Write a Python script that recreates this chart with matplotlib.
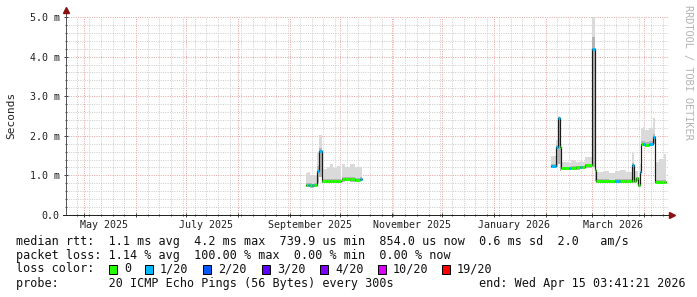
import numpy as np
import pandas as pd
import matplotlib
matplotlib.use("Agg")
import matplotlib.pyplot as plt
import matplotlib.dates as mdates
from matplotlib.patches import Rectangle

# smokeping style: one row per step, value holds until next row start
step_start = [
    "2025-09-10 10:00", "2025-09-11 14:00", "2025-09-12 19:00", "2025-09-14 00:00",
    "2025-09-15 05:00", "2025-09-17 00:00", "2025-09-18 05:00", "2025-09-20 00:00",
    "2025-09-23 00:00", "2025-09-25 00:00", "2025-09-27 00:00", "2025-09-29 00:00",
    "2025-10-01 08:00", "2025-10-02 00:00", "2025-10-04 00:00", "2025-10-07 00:00",
    "2025-10-10 00:00", "2025-10-12 19:00", "2025-10-14 00:00",
    "2026-02-03 22:00", "2026-02-07 07:00", "2026-02-08 12:00", "2026-02-09 19:00",
    "2026-02-10 10:00", "2026-02-15 02:00", "2026-02-16 07:00", "2026-02-19 00:00",
    "2026-02-21 14:00", "2026-02-22 19:00", "2026-02-24 12:00", "2026-02-28 19:00",
    "2026-03-02 10:00", "2026-03-03 00:00", "2026-03-07 00:00", "2026-03-11 00:00",
    "2026-03-14 10:00", "2026-03-17 10:00", "2026-03-21 00:00", "2026-03-24 19:00",
    "2026-03-25 19:00", "2026-03-27 00:00", "2026-03-28 05:00", "2026-03-29 10:00",
    "2026-03-30 00:00", "2026-03-31 00:00", "2026-04-01 10:00", "2026-04-03 19:00",
    "2026-04-06 00:00", "2026-04-07 02:00", "2026-04-10 00:00", "2026-04-12 12:00",
    "2026-04-14 00:00",
]
nan = np.nan
median_ms = [0.76, 0.77, 0.75, 0.75, 0.76, 1.12, 1.62, 0.85, 0.85, 0.86, 0.85, 0.86,
             nan, 0.90, 0.91, 0.90, 0.89, 0.92, nan,
             1.25, 1.72, 2.46, 1.72, 1.18, 1.18, 1.19, 1.20, 1.20, 1.21, 1.26, 4.20,
             1.14, 0.86, 0.86, 0.85, 0.86, 0.86, 0.86, 1.26, 0.86, 0.93, 0.76, 1.09,
             1.79, 1.79, 1.78, 1.79, 1.98, 0.84, 0.84, 0.84, nan]
loss_20 = [0, 1, 0, 1, 0, 1, 1, 0, 0, 0, 0, 0,
           0, 0, 0, 0, 0, 1, 0,
           1, 1, 1, 0, 0, 1, 0, 0, 1, 0, 0, 1,
           0, 0, 0, 0, 1, 0, 0, 1, 0, 0, 0, 1,
           0, 1, 0, 1, 1, 0, 0, 0, 0]
smoke_hi_ms = [1.05, 1.08, 1.00, 0.98, 1.02, 1.60, 2.02, 1.15, 1.22, 1.30, 1.18, 1.25,
               nan, 1.30, 1.20, 1.28, 1.22, 1.20, nan,
               1.49, 1.90, 2.50, 1.80, 1.35, 1.32, 1.38, 1.33, 1.36, 1.34, 1.46, 5.07,
               1.30, 1.08, 1.12, 1.06, 1.10, 1.13, 1.08, 1.56, 1.10, 1.10, 0.95, 1.30,
               2.20, 2.23, 2.15, 2.20, 2.45, 1.35, 1.42, 1.55, nan]
smoke_mid_ms = [0.80, 0.82, 0.80, 0.79, 0.80, 1.25, 1.70, 0.90, 0.90, 0.91, 0.90, 0.91,
                nan, 0.95, 0.96, 0.95, 0.94, 0.96, nan,
                1.30, 1.78, 2.40, 1.72, 1.22, 1.22, 1.23, 1.24, 1.24, 1.25, 1.30, 4.50,
                1.18, 0.90, 0.90, 0.89, 0.90, 0.90, 0.90, 1.32, 0.90, 0.96, 0.79, 1.12,
                1.86, 1.86, 1.85, 1.86, 2.05, 0.88, 0.88, 0.89, nan]
smoke_lo_ms = [0.70, 0.70, 0.69, 0.69, 0.70, 0.80, 0.95, 0.80, 0.80, 0.81, 0.80, 0.81,
               nan, 0.84, 0.85, 0.84, 0.83, 0.86, nan,
               1.18, 1.20, 1.30, 1.10, 1.13, 1.13, 1.14, 1.14, 1.15, 1.15, 1.19, 1.20,
               0.85, 0.81, 0.81, 0.80, 0.81, 0.81, 0.81, 0.82, 0.81, 0.86, 0.70, 0.90,
               1.73, 1.73, 1.72, 1.73, 1.80, 0.80, 0.80, 0.80, nan]

loss_colors = {0: "#26ff00", 1: "#00b8ff", 2: "#0059ff", 3: "#5e00ff",
               4: "#7e00ff", 10: "#dd00ff", 19: "#ff0000"}
legend_loss = ["0", "1/20", "2/20", "3/20", "4/20", "10/20", "19/20"]
legend_keys = [0, 1, 2, 3, 4, 10, 19]

month_labels = ["May 2025", "July 2025", "September 2025", "November 2025",
                "January 2026", "March 2026"]
month_label_at = ["2025-05-13", "2025-07-13", "2025-09-13", "2025-11-13",
                  "2026-01-13", "2026-03-13"]

t_start = pd.Timestamp("2025-04-20 03:41:21")
t_end = pd.Timestamp("2026-04-15 03:41:21")

W, H = 697, 297
PX = 0.72  # one pixel in points at dpi 100
mono = "DejaVu Sans Mono"

fig = plt.figure(figsize=(W / 100, H / 100), dpi=100)
fig.patch.set_facecolor("white")
ax = fig.add_axes([66 / W, (H - 215) / H, (668 - 66) / W, (215 - 17) / H])
ax.set_facecolor("white")

t = mdates.date2num(pd.to_datetime(step_start))
med = np.array(median_ms)
hi = np.array(smoke_hi_ms)
mid = np.array(smoke_mid_ms)
lo = np.array(smoke_lo_ms)
widths = np.diff(t)
ok = ~np.isnan(med[:-1])

# smoke
ax.bar(t[:-1][ok], (hi - lo)[:-1][ok], width=widths[ok], bottom=lo[:-1][ok],
       align="edge", color="#dadada", linewidth=0, zorder=2)
ax.bar(t[:-1][ok], (mid - lo)[:-1][ok], width=widths[ok], bottom=lo[:-1][ok],
       align="edge", color="#b4b4b4", linewidth=0, zorder=3)

# median line + loss colour
ax.step(t, med, where="post", color="#1a1a1a", lw=1.2 * PX, zorder=4)
for i in range(len(t) - 1):
    if np.isnan(med[i]):
        continue
    ax.hlines(med[i], t[i], t[i + 1], color=loss_colors[loss_20[i]],
              lw=3 * PX, zorder=5)

ax.set_xlim(mdates.date2num(t_start), mdates.date2num(t_end))
ax.set_ylim(0, 5.0)

# grid
ax.xaxis.set_major_locator(mdates.MonthLocator())
ax.xaxis.set_minor_locator(mdates.WeekdayLocator(byweekday=mdates.SU))
ax.yaxis.set_major_locator(plt.MultipleLocator(1.0))
ax.yaxis.set_minor_locator(plt.MultipleLocator(0.2))
ax.grid(which="minor", color="#cdcdcd", linestyle=(0, (1, 1.3)), lw=PX, zorder=1)
ax.grid(which="major", color="#e6a4a4", linestyle=(0, (1, 1.3)), lw=PX, zorder=1)
ax.set_axisbelow(True)

ax.set_xticklabels([])
ax.set_yticks([0, 1, 2, 3, 4, 5])
ax.set_yticklabels(["0.0", "1.0 m", "2.0 m", "3.0 m", "4.0 m", "5.0 m"],
                   family=mono, fontsize=7.2, color="#222222")
ax.tick_params(axis="x", which="major", direction="inout", length=4 * PX, width=PX, color="#444444")
ax.tick_params(axis="x", which="minor", direction="inout", length=2 * PX, width=PX, color="#444444")
ax.tick_params(axis="y", which="major", direction="inout", length=4 * PX, width=PX,
               color="#444444", pad=3)
ax.tick_params(axis="y", which="minor", direction="inout", length=2 * PX, width=PX, color="#444444")

for lab, at in zip(month_labels, month_label_at):
    ax.text(mdates.date2num(pd.Timestamp(at)), -10 / 198, lab, transform=ax.get_xaxis_transform(),
            ha="center", va="center", family=mono, fontsize=7.2, color="#222222")

for s in ax.spines.values():
    s.set_visible(False)

# axes with arrows
ax.plot([0, 0], [0, 1.035], transform=ax.transAxes, color="#555555", lw=PX, clip_on=False, zorder=6)
ax.plot([-0.005, 1.006], [0, 0], transform=ax.transAxes, color="#222222", lw=PX, clip_on=False, zorder=6)
ax.plot([0], [1.035], transform=ax.transAxes, marker="^", ms=4.5, color="#8b1010",
        clip_on=False, zorder=7)
ax.plot([1.006], [0], transform=ax.transAxes, marker=">", ms=4.5, color="#8b1010",
        clip_on=False, zorder=7)

fig.text(11 / W, 1 - 115 / H, "Seconds", rotation=90, ha="center", va="center",
         family=mono, fontsize=8, color="#222222")
fig.text(688 / W, 1 - 5 / H, "RRDTOOL / TOBI OETIKER", rotation=270, ha="center", va="top",
         family=mono, fontsize=7.4, color="#b4b4b4")

# legend block
fs = 8.5
fig.text(16 / W, 1 - 241 / H,
         "median rtt:  1.1 ms avg  4.2 ms max  739.9 us min  854.0 us now  0.6 ms sd  2.0   am/s",
         family=mono, fontsize=fs, va="center", color="#111111")
fig.text(16 / W, 1 - 255 / H,
         "packet loss: 1.14 % avg  100.00 % max  0.00 % min  0.00 % now",
         family=mono, fontsize=fs, va="center", color="#111111")
fig.text(16 / W, 1 - 269 / H, "loss color:", family=mono, fontsize=fs, va="center", color="#111111")
box_x = [109, 145, 203, 262, 320, 378, 442]
for bx, key, lab in zip(box_x, legend_keys, legend_loss):
    fig.patches.append(Rectangle((bx / W, 1 - 273.5 / H), 8 / W, 9 / H, transform=fig.transFigure,
                                 facecolor=loss_colors[key], edgecolor="black", lw=PX))
    fig.text((bx + 15) / W, 1 - 269 / H, lab, family=mono, fontsize=fs, va="center", color="#111111")
fig.text(16 / W, 1 - 284 / H, "probe:       20 ICMP Echo Pings (56 Bytes) every 300s",
         family=mono, fontsize=fs, va="center", color="#111111")
fig.text(479 / W, 1 - 284 / H, "end: Wed Apr 15 03:41:21 2026",
         family=mono, fontsize=fs, va="center", color="#111111")

fig.savefig("out.png", dpi=100, facecolor="white")
